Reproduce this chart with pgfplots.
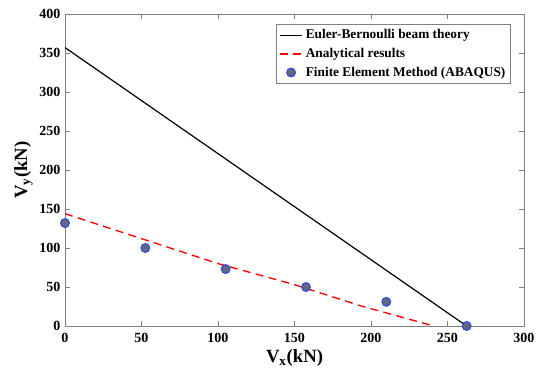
\documentclass[border=0pt]{standalone}
\usepackage{fontspec}
\setmainfont{Liberation Serif}
\usepackage{pgfplots}
\pgfplotsset{compat=1.18}
\definecolor{axgray}{RGB}{128,128,128}
\definecolor{femfill}{RGB}{95,105,125}
\definecolor{femedge}{RGB}{50,70,230}
\begin{document}
\begin{tikzpicture}
\path[use as bounding box] (-48.75pt,-34.5pt) rectangle (354pt,244.5pt);
\begin{axis}[
  scale only axis,
  width=344.25pt, height=234pt,
  xmin=0, xmax=300, ymin=0, ymax=400,
  xtick={0,50,...,300}, ytick={0,50,...,400},
  tick align=inside,
  major tick length=3.5pt,
  axis line style={axgray, line width=0.6pt},
  every tick/.style={axgray, line width=0.6pt},
  /pgf/number format/assume math mode=true,
  ticklabel style={font=\fontsize{10.5}{12}\selectfont\bfseries, text=black},
  xticklabel style={yshift=-2pt},
  xlabel={V\textsubscript{x}(kN)},
  ylabel={V\textsubscript{y}(kN)},
  label style={font=\fontsize{14}{16}\selectfont\bfseries},
  xlabel style={yshift=2pt},
  ylabel style={yshift=-2pt},
  legend style={at={(0.972,0.968)}, anchor=north east, draw=axgray, line width=0.6pt,
    font=\fontsize{10}{12}\selectfont\bfseries, row sep=1.5pt, inner sep=2pt},
  legend cell align=left,
]
\addplot[black, line width=0.9pt] coordinates {(0,357) (262.5,0)};
\addlegendentry{Euler-Bernoulli beam theory}
\addplot[red, line width=1pt, dash pattern=on 6pt off 4pt] coordinates {
(0,144) (50,112) (100,80) (150,53) (193,26) (241,0)};
\addlegendentry{Analytical results}
\addplot[only marks, mark=*, mark size=3.3pt, mark options={fill=femfill, draw=femedge, line width=0.8pt}] coordinates {
(0,132) (52.5,100) (105,73) (157.5,50) (210,31) (262.5,0)};
\addlegendentry{Finite Element Method (ABAQUS)}
\end{axis}
\end{tikzpicture}
\end{document}
